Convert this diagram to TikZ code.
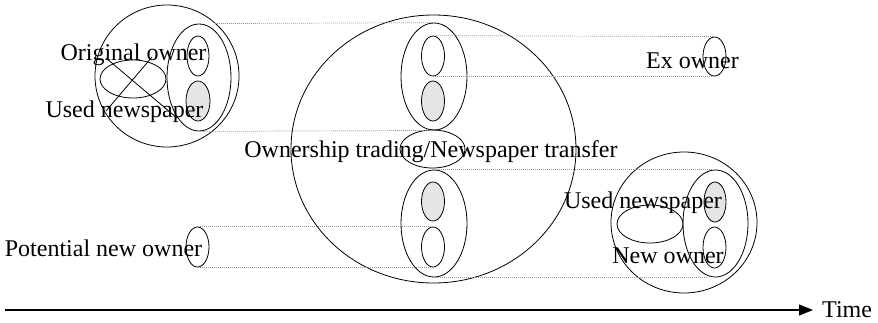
\documentclass[tikz,border=0pt]{standalone}
\usepackage{fontspec}
\setmainfont{Liberation Serif}
\usetikzlibrary{shapes.geometric,arrows.meta}
\tikzset{
  ell/.style={draw=black, line width=0.8pt, ellipse, inner sep=0pt, minimum width=#1},
  shade/.style={fill=black!10},
  conn/.style={draw=black!40, line width=0.7pt, dash pattern=on 1.2pt off 0.8pt},
  lbl/.style={inner sep=0pt, anchor=base, font=\fontsize{24}{28}\selectfont},
}
\begin{document}
\begin{tikzpicture}[x=1pt,y=-1pt]
\useasboundingbox (0,0) rectangle (878,322);
% left group
\node[ell=144pt, minimum height=142pt] (Louter) at (167,76) {};
\node[ell=64pt, minimum height=107pt] (Linner) at (199,77.5) {};
\node[ell=22pt, minimum height=40pt] (Ltop) at (198,56) {};
\node[ell=24pt, minimum height=40pt, shade] (Lgray) at (198,101) {};
\node[ell=66pt, minimum height=38pt] (Lcross) at (133,79) {};
\coordinate (x1a) at (106,58);
\coordinate (x1b) at (177,118);
\coordinate (x2a) at (152,57);
\coordinate (x2b) at (106,111);
\draw[line width=0.8pt] (x1a) -- (x1b) (x2a) -- (x2b);
% middle group
\node[ell=285pt, minimum height=268pt] (Mbig) at (433.5,149) {};
\node[ell=66pt, minimum height=107pt] (Mtop) at (434,76.5) {};
\node[ell=23pt, minimum height=40pt] (Mtopw) at (433,56) {};
\node[ell=23pt, minimum height=40pt, shade] (Mtopg) at (433,101) {};
\node[ell=65pt, minimum height=38pt] (Mmid) at (432.5,149) {};
\node[ell=66pt, minimum height=107pt] (Mbot) at (434,223.5) {};
\node[ell=23pt, minimum height=39pt, shade] (Mbotg) at (433,201.5) {};
\node[ell=23pt, minimum height=40pt] (Mbotw) at (433,247) {};
% ex owner and potential owner
\node[ell=23pt, minimum height=39pt] (Ex) at (714.5,56.5) {};
\node[ell=23pt, minimum height=40pt] (Pot) at (197.5,247) {};
% right group
\node[ell=146pt, minimum height=141pt] (Router) at (684,222.5) {};
\node[ell=65pt, minimum height=107pt] (Rinner) at (715.5,223.5) {};
\node[ell=22pt, minimum height=40pt, shade] (Rgray) at (715,202) {};
\node[ell=23pt, minimum height=41pt] (Rwhite) at (714.5,247.5) {};
\node[ell=66pt, minimum height=38pt] (Rleft) at (650,224) {};
% dashed connectors
\draw[conn] ([xshift=16pt]Linner.north) -- (Mtop.north);
\draw[conn] ([xshift=4pt]Linner.south) -- (Mtop.south);
\draw[conn] ([xshift=3pt]Mtopw.north) -- (Ex.north);
\draw[conn] (Mtopw.south) -- (Ex.south);
\draw[conn] (Pot.north) -- (Mbotw.north);
\draw[conn] (Pot.south) -- (Mbotw.south);
\draw[conn] ([xshift=3pt]Mbot.north) -- ([xshift=-3pt]Rinner.north);
\draw[conn] (Mbot.south) -- ([xshift=-8pt]Rinner.south);
% labels
\node[lbl] (tOrig) at (133.5,60) {Original owner};
\node[lbl] (tUsedL) at (124.5,117) {Used newspaper};
\node[lbl] (tTrade) at (431,157) {Ownership trading/Newspaper transfer};
\node[lbl] (tEx) at (692.5,68) {Ex owner};
\node[lbl] (tUsedR) at (643,208) {Used newspaper};
\node[lbl] (tNew) at (668,263) {New owner};
\node[lbl] (tPot) at (103.5,256) {Potential new owner};
% time axis
\coordinate (tstart) at (5,310);
\node[lbl, anchor=base west] (tTime) at (822,317.5) {Time};
\coordinate (tend) at (813,310);
\draw[line width=1.3pt, -{Triangle[length=14pt, width=11pt]}] (tstart) -- (tend);
\end{tikzpicture}
\end{document}
